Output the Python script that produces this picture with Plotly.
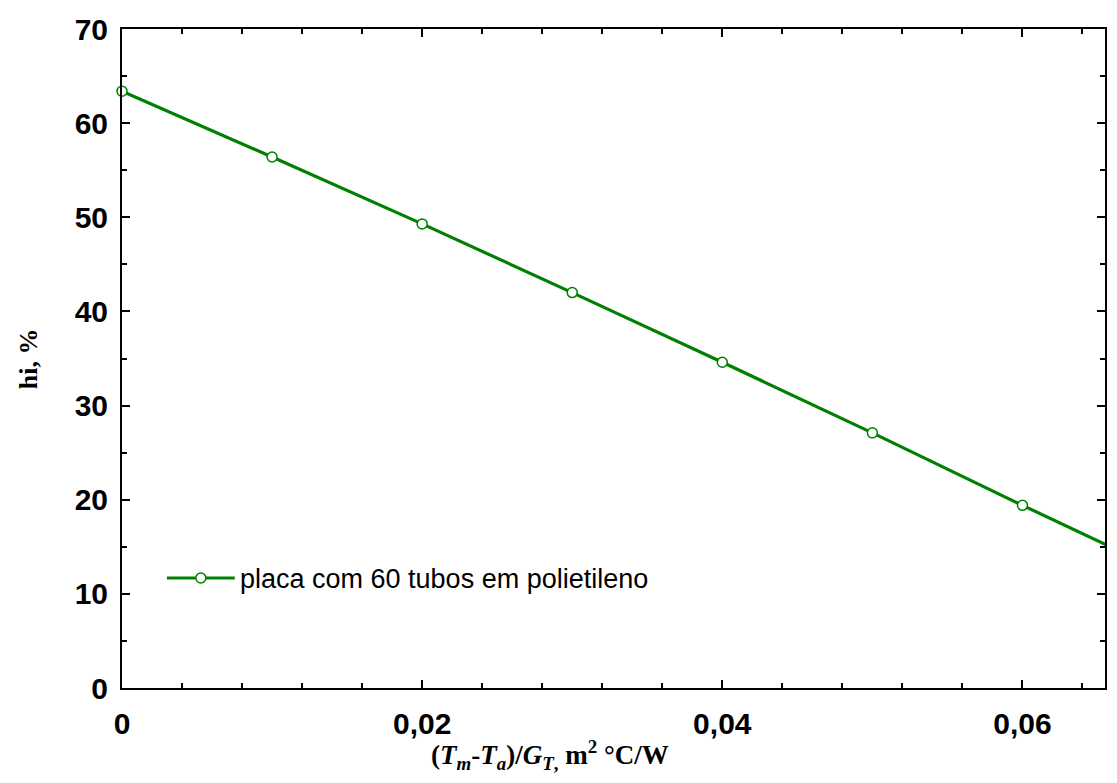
import plotly.graph_objects as go

# data
x_pts = [0.0, 0.01, 0.02, 0.03, 0.04, 0.05, 0.06]
eta_pts = [63.4, 56.4, 49.3, 42.0, 34.6, 27.1, 19.4]
x_ext = [0.06, 0.07]
eta_ext = [19.4, 11.9]
series_name = "placa com 60 tubos em polietileno"
x_ticks = [0, 0.02, 0.04, 0.06]
x_ticklabels = ["0", "0,02", "0,04", "0,06"]
y_ticks = [0, 10, 20, 30, 40, 50, 60, 70]
x_range = [0, 0.0655]
y_range = [0, 70]

GREEN = "#008000"

# plot area geometry in page pixels (page has an 8px body margin)
PL, PR, PT, PB = 122, 1107, 29, 688
PW, PH = PR - PL, PB - PT


def px(xp):
    return (xp - PL) / PW


def py(yp):
    return (PB - yp) / PH


fig = go.Figure()
fig.add_trace(go.Scatter(x=x_ext, y=eta_ext, mode="lines",
                         line=dict(color=GREEN, width=3.2), showlegend=False,
                         hoverinfo="skip"))
fig.add_trace(go.Scatter(x=x_pts, y=eta_pts, mode="lines+markers", name=series_name,
                         line=dict(color=GREEN, width=3.2),
                         marker=dict(symbol="circle", size=10, color="white",
                                     line=dict(color=GREEN, width=1.5)),
                         cliponaxis=False, showlegend=False))

axis_common = dict(showline=True, linecolor="black", linewidth=2, mirror="ticks",
                   ticks="inside", tickcolor="black", tickwidth=1.5, ticklen=8,
                   showgrid=False, zeroline=False,
                   tickfont=dict(family="Arial", size=30, color="black", weight="bold"))

fig.update_xaxes(range=x_range, tickvals=x_ticks, ticktext=x_ticklabels,
                 minor=dict(dtick=0.004, ticks="inside", ticklen=5, tickwidth=1.5,
                            tickcolor="black", showgrid=False),
                 ticklabelstandoff=8, **axis_common)
fig.update_yaxes(range=y_range, tickvals=y_ticks,
                 minor=dict(dtick=5, ticks="inside", ticklen=5, tickwidth=1.5,
                            tickcolor="black", showgrid=False),
                 ticklabelstandoff=6, **axis_common)

# legend key (drawn as decoration)
leg_y = py(578)
shapes = [
    dict(type="line", xref="paper", yref="paper", x0=px(167), x1=px(235),
         y0=leg_y, y1=leg_y, line=dict(color=GREEN, width=3.2)),
    dict(type="circle", xref="paper", yref="paper", xsizemode="pixel", ysizemode="pixel",
         xanchor=px(201), yanchor=leg_y, x0=-5, x1=5, y0=-5, y1=5,
         fillcolor="white", line=dict(color=GREEN, width=1.5)),
]

fig.update_layout(
    width=1101, height=767,
    margin=dict(l=114, r=2, t=21, b=87),
    plot_bgcolor="white", paper_bgcolor="white",
    showlegend=False,
    shapes=shapes,
    annotations=[
        dict(text=series_name, xref="paper", yref="paper", x=px(238), y=py(579),
             xanchor="left", yanchor="middle", showarrow=False,
             font=dict(family="Arial", size=27, color="black")),
        dict(text="(<i>T<sub>m</sub></i>-<i>T<sub>a</sub></i>)/<i>G<sub>T</sub></i><sub>,</sub> m<sup>2</sup> °C/W",
             xref="paper", yref="paper", x=px(551), y=py(755),
             xanchor="center", yanchor="middle", showarrow=False,
             font=dict(family="Liberation Serif", size=27, color="black", weight="bold")),
        dict(text="hi, %", xref="paper", yref="paper", x=px(28), y=py(359),
             xanchor="center", yanchor="middle", showarrow=False, textangle=-90,
             font=dict(family="Liberation Serif", size=26, color="black", weight="bold")),
    ],
)

fig.write_html("out.html")
